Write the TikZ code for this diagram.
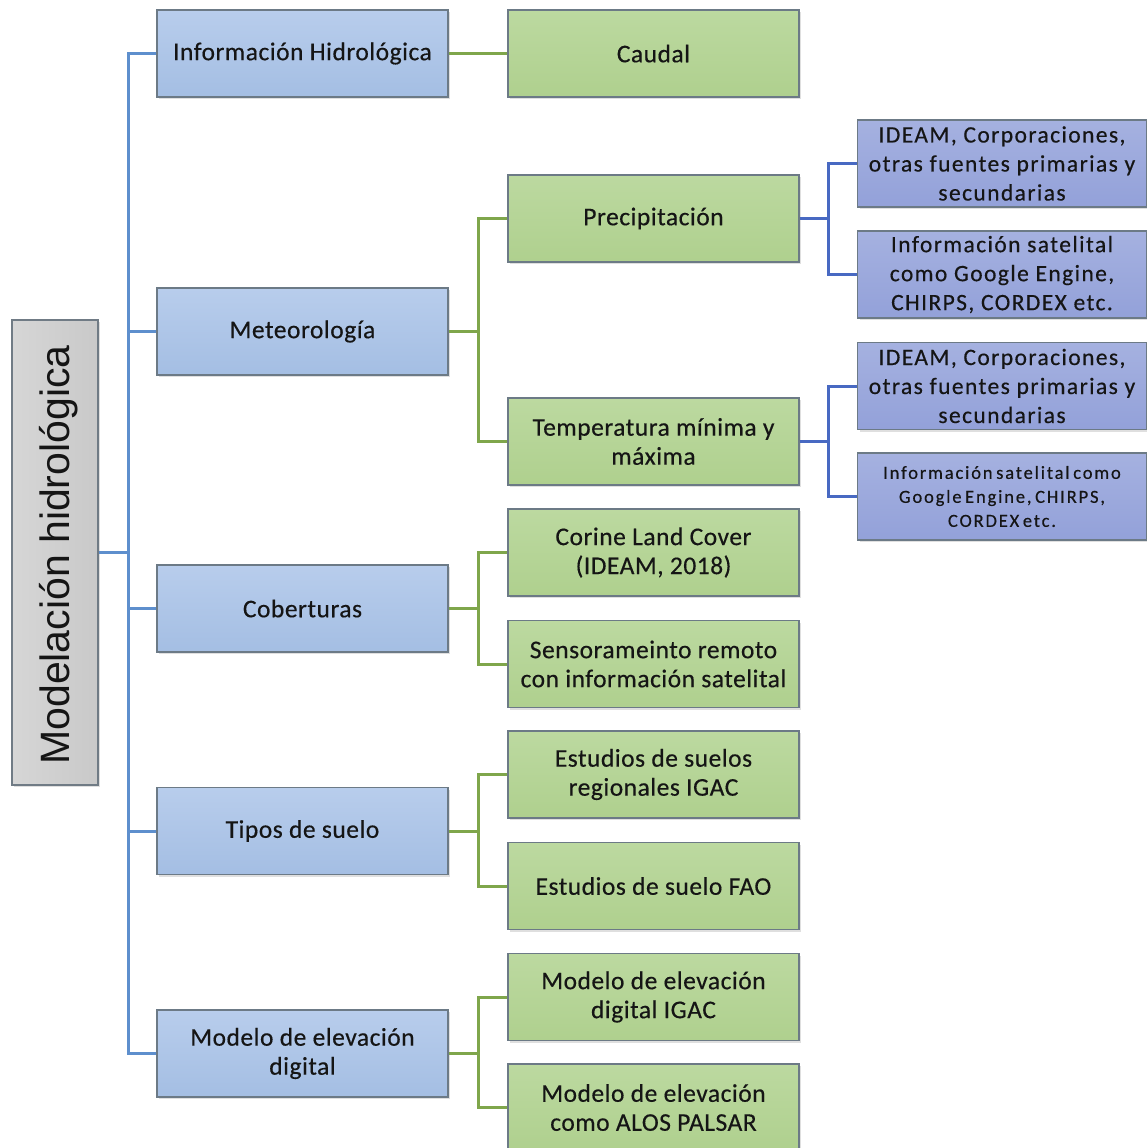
\documentclass[tikz,border=0pt]{standalone}
\usepackage{fontspec}
\setmainfont{Carlito}[LetterSpace=2, FakeBold=0.4]
\newfontfamily\widefont{Carlito}[LetterSpace=6, FakeBold=0.4]
\newfontfamily\tightfont{Carlito}[LetterSpace=10, FakeBold=0.4, WordSpace=0.6]
\newfontfamily\titlefont{Liberation Sans}
\usetikzlibrary{shadows}
\definecolor{lvlone}{HTML}{A4BEE3}
\definecolor{lvlonetop}{HTML}{B8CDEC}
\definecolor{lvltwo}{HTML}{AFD08E}
\definecolor{lvltwotop}{HTML}{BCD9A0}
\definecolor{lvlthree}{HTML}{93A1D9}
\definecolor{lvlthreetop}{HTML}{A5B1E0}
\definecolor{rootfill}{HTML}{C9C9C9}
\definecolor{rootfilltop}{HTML}{D6D6D6}
\definecolor{boxline}{HTML}{6C7A86}
\definecolor{linkblue}{HTML}{5E8FCD}
\definecolor{linkgreen}{HTML}{7FA64B}
\definecolor{linkdeep}{HTML}{4869C2}
\definecolor{ink}{HTML}{151515}
\tikzset{
  basebox/.style={draw=boxline, line width=1.6pt, minimum height=87pt,
    align=center, text=ink, inner sep=1pt,
    drop shadow={shadow xshift=2pt, shadow yshift=-2pt, opacity=0.25}},
  boxone/.style={basebox, minimum width=291pt, top color=lvlonetop, bottom color=lvlone,
    font=\fontsize{25.5}{29}\selectfont},
  boxtwo/.style={basebox, minimum width=291pt, top color=lvltwotop, bottom color=lvltwo,
    font=\fontsize{25.5}{29}\selectfont},
  boxthree/.style={basebox, minimum width=289pt, top color=lvlthreetop, bottom color=lvlthree,
    font=\widefont\fontsize{23.5}{29}\selectfont},
  rootbox/.style={draw=boxline!80!gray, line width=1.6pt, minimum width=86pt, minimum height=465pt,
    left color=rootfilltop, right color=rootfill, inner sep=0pt,
    drop shadow={shadow xshift=2pt, shadow yshift=-2pt, opacity=0.25}},
  linkone/.style={draw=linkblue, line width=3pt},
  linktwo/.style={draw=linkgreen, line width=3pt},
  linkthree/.style={draw=linkdeep, line width=3pt}
}
\begin{document}
\begin{tikzpicture}[x=1pt, y=-1pt]
\useasboundingbox (0,0) rectangle (1147,1148);

% root
\node[rootbox] (root) at (55,552.5) {};
\node[rotate=90, text=ink, font=\titlefont\fontsize{41}{44}\selectfont] (roottext) at (59,555) {Modelación hidrológica};

% first level
\node[boxone] (info) at (302.5,53.5) {Información Hidrológica};
\node[boxone] (met)  at (302.5,331.5) {Meteorología};
\node[boxone] (cob)  at (302.5,608.5) {Coberturas};
\node[boxone] (suel) at (302.5,831) {Tipos de suelo};
\node[boxone] (dem)  at (302.5,1053.5) {Modelo de elevación\\digital};

% second level
\node[boxtwo] (caudal) at (653.5,53.5) {Caudal};
\node[boxtwo] (prec)   at (653.5,218.5) {Precipitación};
\node[boxtwo] (temp)   at (653.5,441.5) {Temperatura mínima y\\máxima};
\node[boxtwo] (corine) at (653.5,552.5) {Corine Land Cover\\(IDEAM, 2018)};
\node[boxtwo] (sens)   at (653.5,664) {Sensorameinto remoto\\con información satelital};
\node[boxtwo] (igacs)  at (653.5,774.5) {Estudios de suelos\\regionales IGAC};
\node[boxtwo] (fao)    at (653.5,886) {Estudios de suelo FAO};
\node[boxtwo] (igacd)  at (653.5,997) {Modelo de elevación\\digital IGAC};
\node[boxtwo] (alos)   at (653.5,1107.5) {Modelo de elevación\\como ALOS PALSAR};

% third level
\node[boxthree] (pa) at (1002,163.5) {IDEAM, Corporaciones,\\otras fuentes primarias y\\secundarias};
\node[boxthree] (pb) at (1002,274.5) {Información satelital\\como Google Engine,\\CHIRPS, CORDEX etc.};
\node[boxthree] (ta) at (1002,386) {IDEAM, Corporaciones,\\otras fuentes primarias y\\secundarias};
\node[boxthree, font=\tightfont\fontsize{18.5}{24}\selectfont] (tb) at (1002,496.5) {Información satelital como\\Google Engine, CHIRPS,\\CORDEX etc.};

% connectors
\foreach \c in {info,met,cob,suel,dem}
  \path[linkone] (root.east) -- ++(30,0) |- (\c.west);
\path[linktwo] (info.east) -- (caudal.west);
\path[linktwo] (met.east) -- ++(30,0) |- (prec.west);
\path[linktwo] (met.east) -- ++(30,0) |- (temp.west);
\path[linktwo] (cob.east) -- ++(30,0) |- (corine.west);
\path[linktwo] (cob.east) -- ++(30,0) |- (sens.west);
\path[linktwo] (suel.east) -- ++(30,0) |- (igacs.west);
\path[linktwo] (suel.east) -- ++(30,0) |- (fao.west);
\path[linktwo] (dem.east) -- ++(30,0) |- (igacd.west);
\path[linktwo] (dem.east) -- ++(30,0) |- (alos.west);
\path[linkthree] (prec.east) -- ++(29,0) |- (pa.west);
\path[linkthree] (prec.east) -- ++(29,0) |- (pb.west);
\path[linkthree] (temp.east) -- ++(29,0) |- (ta.west);
\path[linkthree] (temp.east) -- ++(29,0) |- (tb.west);
\end{tikzpicture}
\end{document}
